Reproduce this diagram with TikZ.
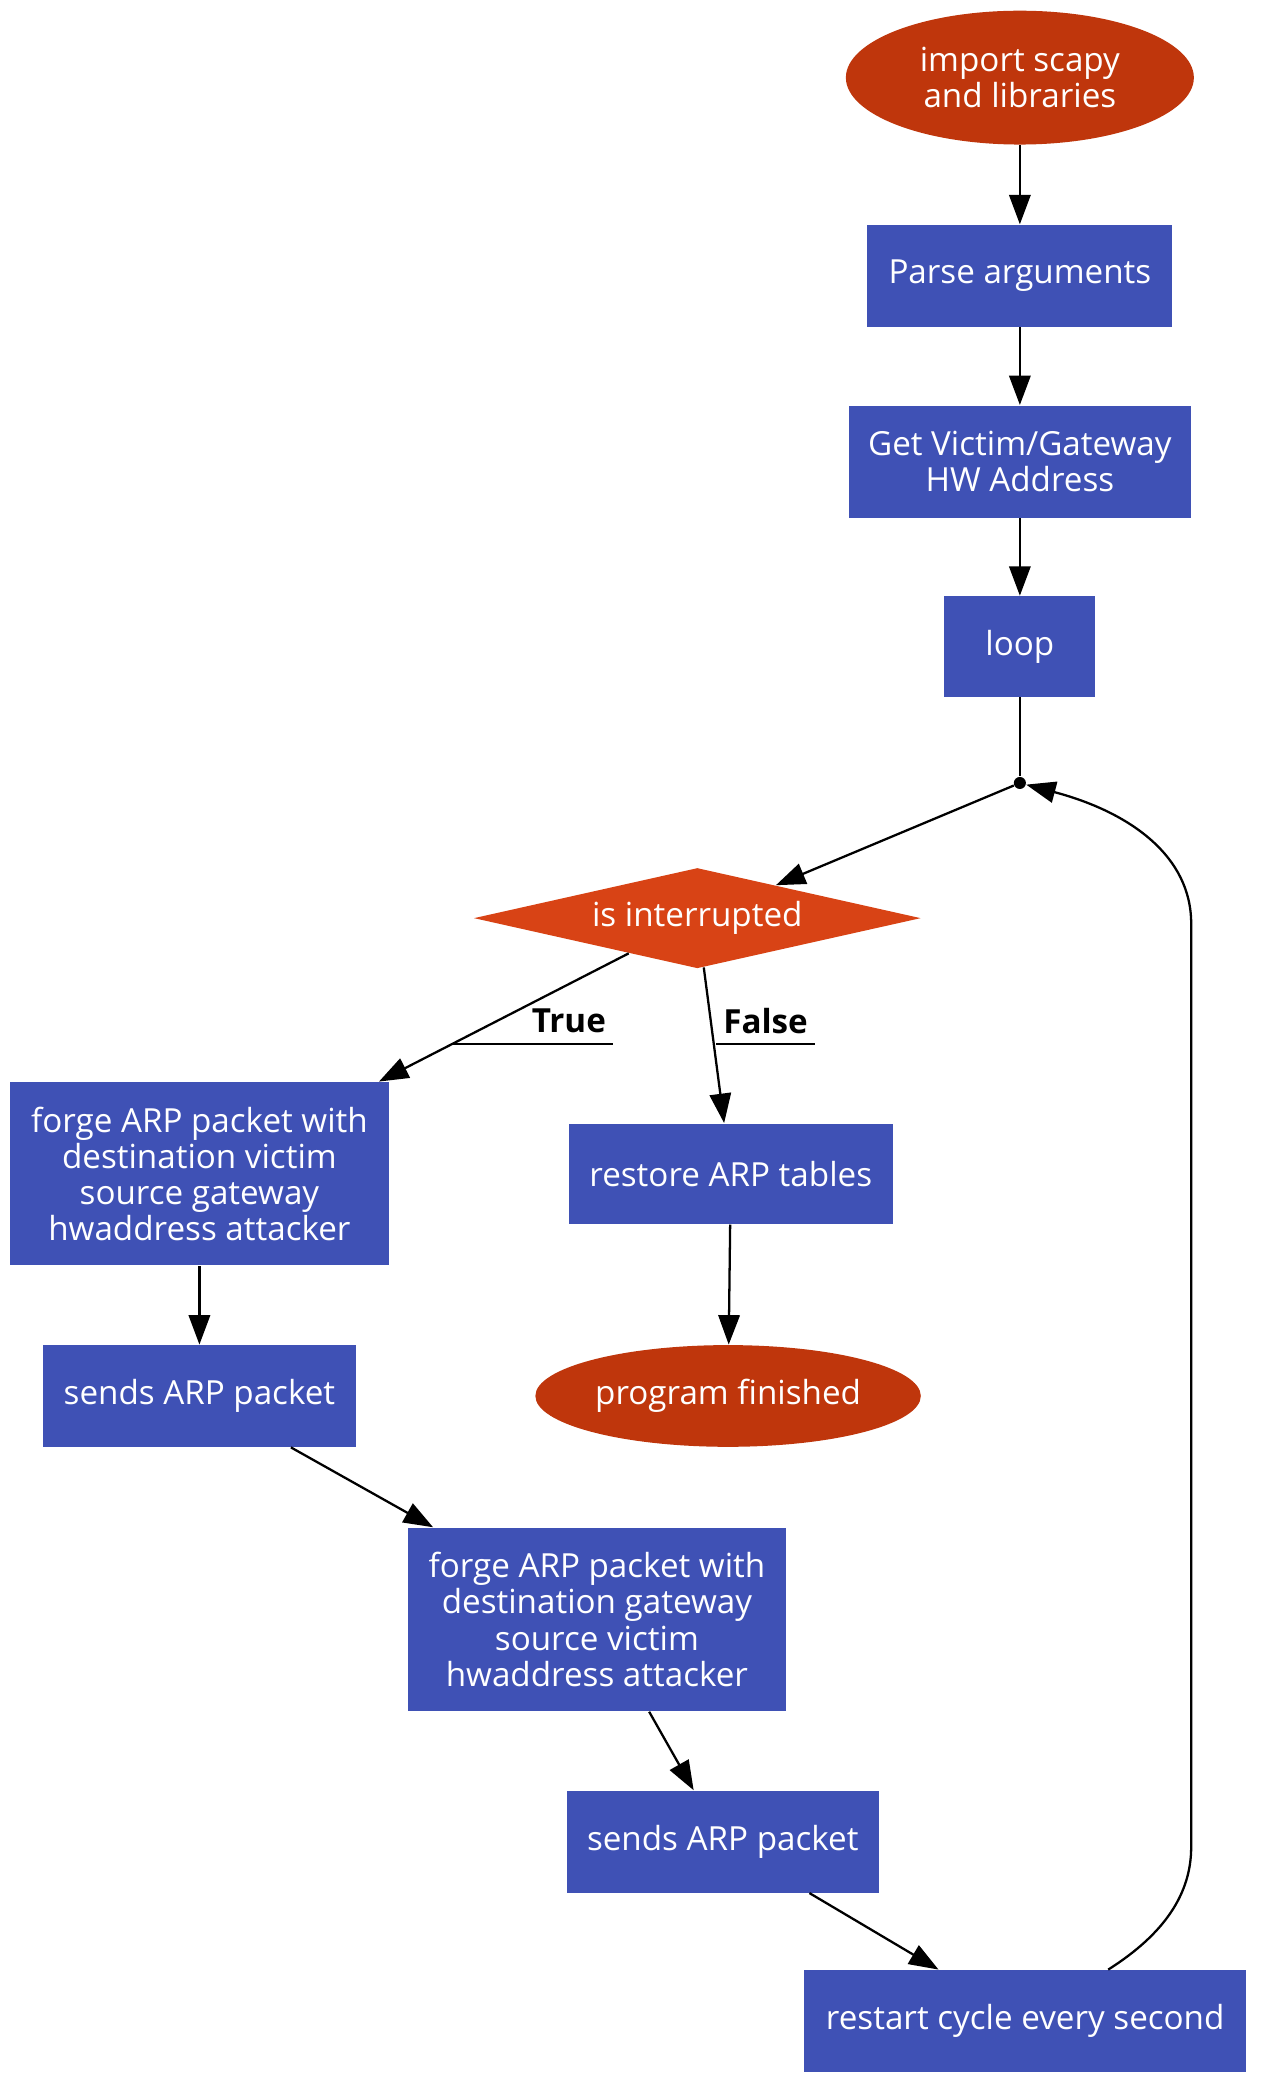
\documentclass[tikz,border=0pt]{standalone}
\usepackage{fontspec}
\setmainfont{Open Sans}
\usetikzlibrary{arrows.meta,shapes.geometric}
\definecolor{boxblue}{HTML}{3F51B5}
\definecolor{termred}{HTML}{BF360C}
\definecolor{testorange}{HTML}{D84315}
\tikzset{
	stepbox/.style={rectangle, fill=boxblue, text=white, align=center, inner sep=0pt, font=\fontsize{12.4}{13.5}\selectfont},
	termnode/.style={ellipse, fill=termred, text=white, align=center, inner sep=0pt, font=\fontsize{12.4}{13.5}\selectfont},
	testnode/.style={diamond, shape aspect=4.45, fill=testorange, text=white, inner sep=0pt, font=\fontsize{12.4}{13.5}\selectfont},
	branch/.style={inner xsep=2.5pt, font=\bfseries\fontsize{12.4}{13.5}\selectfont},
	flow/.style={line width=0.85pt, -{Triangle[length=11pt,width=8pt]}},
}

\begin{document}
\begin{tikzpicture}[x=0.5pt, y=-0.5pt]
		%%%%% START %%%%%
		
		\useasboundingbox (0, 0) rectangle (947.7, 1566.8);
		
		\node[termnode, minimum width=130pt, minimum height=50pt] (import) at (762, 58) {import scapy\\and libraries};
		\node[stepbox, minimum width=114pt, minimum height=38pt] (parse) at (762, 206) {Parse arguments};
		\node[stepbox, minimum width=128pt, minimum height=42pt] (hwaddr) at (762, 345) {Get Victim/Gateway\\HW Address};
		\node[stepbox, minimum width=56.5pt, minimum height=37.5pt] (loop) at (762, 483) {loop};
		\node[circle, fill=black, inner sep=0pt, minimum size=4.5pt] (junc) at (762, 585) {};
		
		\node[testnode, minimum width=167pt, minimum height=37.5pt] (interrupted) at (521, 686) {is interrupted};
		
		\node[stepbox, minimum width=141.5pt, minimum height=68.5pt] (forgevictim) at (149, 877) {forge ARP packet with\\destination victim\\source gateway\\hwaddress attacker};
		\node[stepbox, minimum width=121pt, minimum height=37.5pt] (restore) at (546, 877) {restore ARP tables};
		\node[termnode, minimum width=144pt, minimum height=38pt] (finished) at (544, 1043) {program finished};
		\node[stepbox, minimum width=117pt, minimum height=38pt] (sendvictim) at (149, 1043) {sends ARP packet};
		
		\node[stepbox, minimum width=141.5pt, minimum height=68.5pt] (forgegateway) at (446, 1210) {forge ARP packet with\\destination gateway\\source victim\\hwaddress attacker};
		\node[stepbox, minimum width=116.5pt, minimum height=38pt] (sendgateway) at (540, 1376) {sends ARP packet};
		\node[stepbox, minimum width=165pt, minimum height=38pt] (restart) at (766, 1510) {restart cycle every second};
		
		\draw[flow] (import) -- (parse);
		\draw[flow] (parse) -- (hwaddr);
		\draw[flow] (hwaddr) -- (loop);
		\draw[line width=0.85pt] (loop) -- (junc);
		\draw[flow] (junc) -- (interrupted);
		
		\draw[flow] (interrupted) -- (forgevictim);
		\draw[flow] (interrupted) -- (restore);
		\draw[flow] (restore) -- (finished);
		\draw[flow] (forgevictim) -- (sendvictim);
		\draw[flow] (sendvictim) -- (forgegateway);
		\draw[flow] (forgegateway) -- (sendgateway);
		\draw[flow] (sendgateway) -- (restart);
		
		\draw[flow] ([xshift=31pt]restart.north) .. controls (870, 1445) and (890, 1415) .. (890, 1380) -- (890, 690) .. controls (890, 640) and (845, 607) .. (junc);
		
		\node[branch] (truelbl) at (425, 763) {True};
		\coordinate (truefoot) at (337, 780);
		\draw[line width=0.85pt] (truefoot) -- (truefoot -| truelbl.east);
		
		\node[branch] (falselbl) at (572, 763) {False};
		\coordinate (falsefoot) at (535, 780);
		\draw[line width=0.85pt] (falsefoot) -- (falsefoot -| falselbl.east);
		
		%%%%% END %%%%%
	\end{tikzpicture}
\end{document}
